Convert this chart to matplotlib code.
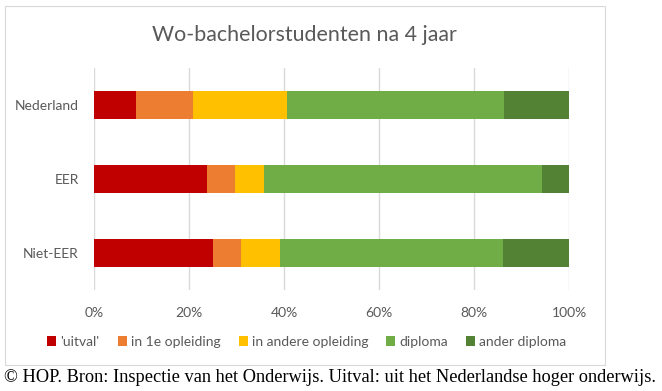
import matplotlib.pyplot as plt
from matplotlib.patches import Rectangle

# data (percent of students)
groups = ["Nederland", "EER", "Niet-EER"]
series = ["'uitval'", "in 1e opleiding", "in andere opleiding", "diploma", "ander diploma"]
uitval = [8.9, 23.8, 25.1]
eerste = [12.0, 5.9, 5.9]
andere = [19.7, 6.1, 8.2]
diploma = [45.7, 58.5, 46.9]
ander_diploma = [13.7, 5.7, 13.9]
ticks = [0, 20, 40, 60, 80, 100]
tick_labels = ["0%", "20%", "40%", "60%", "80%", "100%"]

colors = ["#C00000", "#ED7D31", "#FFC000", "#70AD47", "#548235"]
grey = "#595959"

plt.rcParams['font.family'] = ['Lato', 'DejaVu Sans']

fig = plt.figure(figsize=(6.62, 3.91), dpi=100)
W, H = 662, 391

# chart border like an Excel chart box
fig.patches.append(Rectangle((5 / W, 1 - 365 / H), 600 / W, 359 / H,
                             transform=fig.transFigure, fill=False,
                             edgecolor="#D9D9D9", linewidth=0.8))

ax = fig.add_axes([94 / W, 1 - 290 / H, 475.3 / W, 222 / H])

vals = [uitval, eerste, andere, diploma, ander_diploma]
pos = list(range(len(groups)))
left = [0, 0, 0]
for name, v, c in zip(series, vals, colors):
    ax.barh(pos, v, left=left, height=0.39, color=c, label=name, zorder=3)
    left = [a + b for a, b in zip(left, v)]

ax.set_xlim(0, 100)
ax.set_ylim(2.5, -0.5)
ax.set_xticks(ticks)
ax.set_xticklabels(tick_labels)
ax.set_yticks(pos)
ax.set_yticklabels(groups)
ax.grid(axis="x", color="#D9D9D9", linewidth=1, zorder=0)
for s in ax.spines.values():
    s.set_visible(False)
ax.tick_params(length=0, labelsize=10, labelcolor=grey)
ax.tick_params(axis="x", pad=12)
ax.tick_params(axis="y", pad=11)

fig.text(304 / W, 1 - 35 / H, "Wo-bachelorstudenten na 4 jaar", ha="center",
         va="center", fontsize=15.4, color=grey)

handles, labels = ax.get_legend_handles_labels()
fig.legend(handles, labels, loc="center", bbox_to_anchor=(307 / W, 1 - 342 / H),
           ncol=5, frameon=False, fontsize=10, labelcolor=grey,
           handlelength=0.65, handleheight=0.65, handletextpad=0.3,
           columnspacing=1.3)

fig.text(330 / W, 1 - 377 / H,
         "\u00a9 HOP. Bron: Inspectie van het Onderwijs. Uitval: uit het Nederlandse hoger onderwijs.",
         ha="center", va="center", fontsize=13.2, family="Liberation Serif", color="black")

fig.savefig("out.png", dpi=100)
